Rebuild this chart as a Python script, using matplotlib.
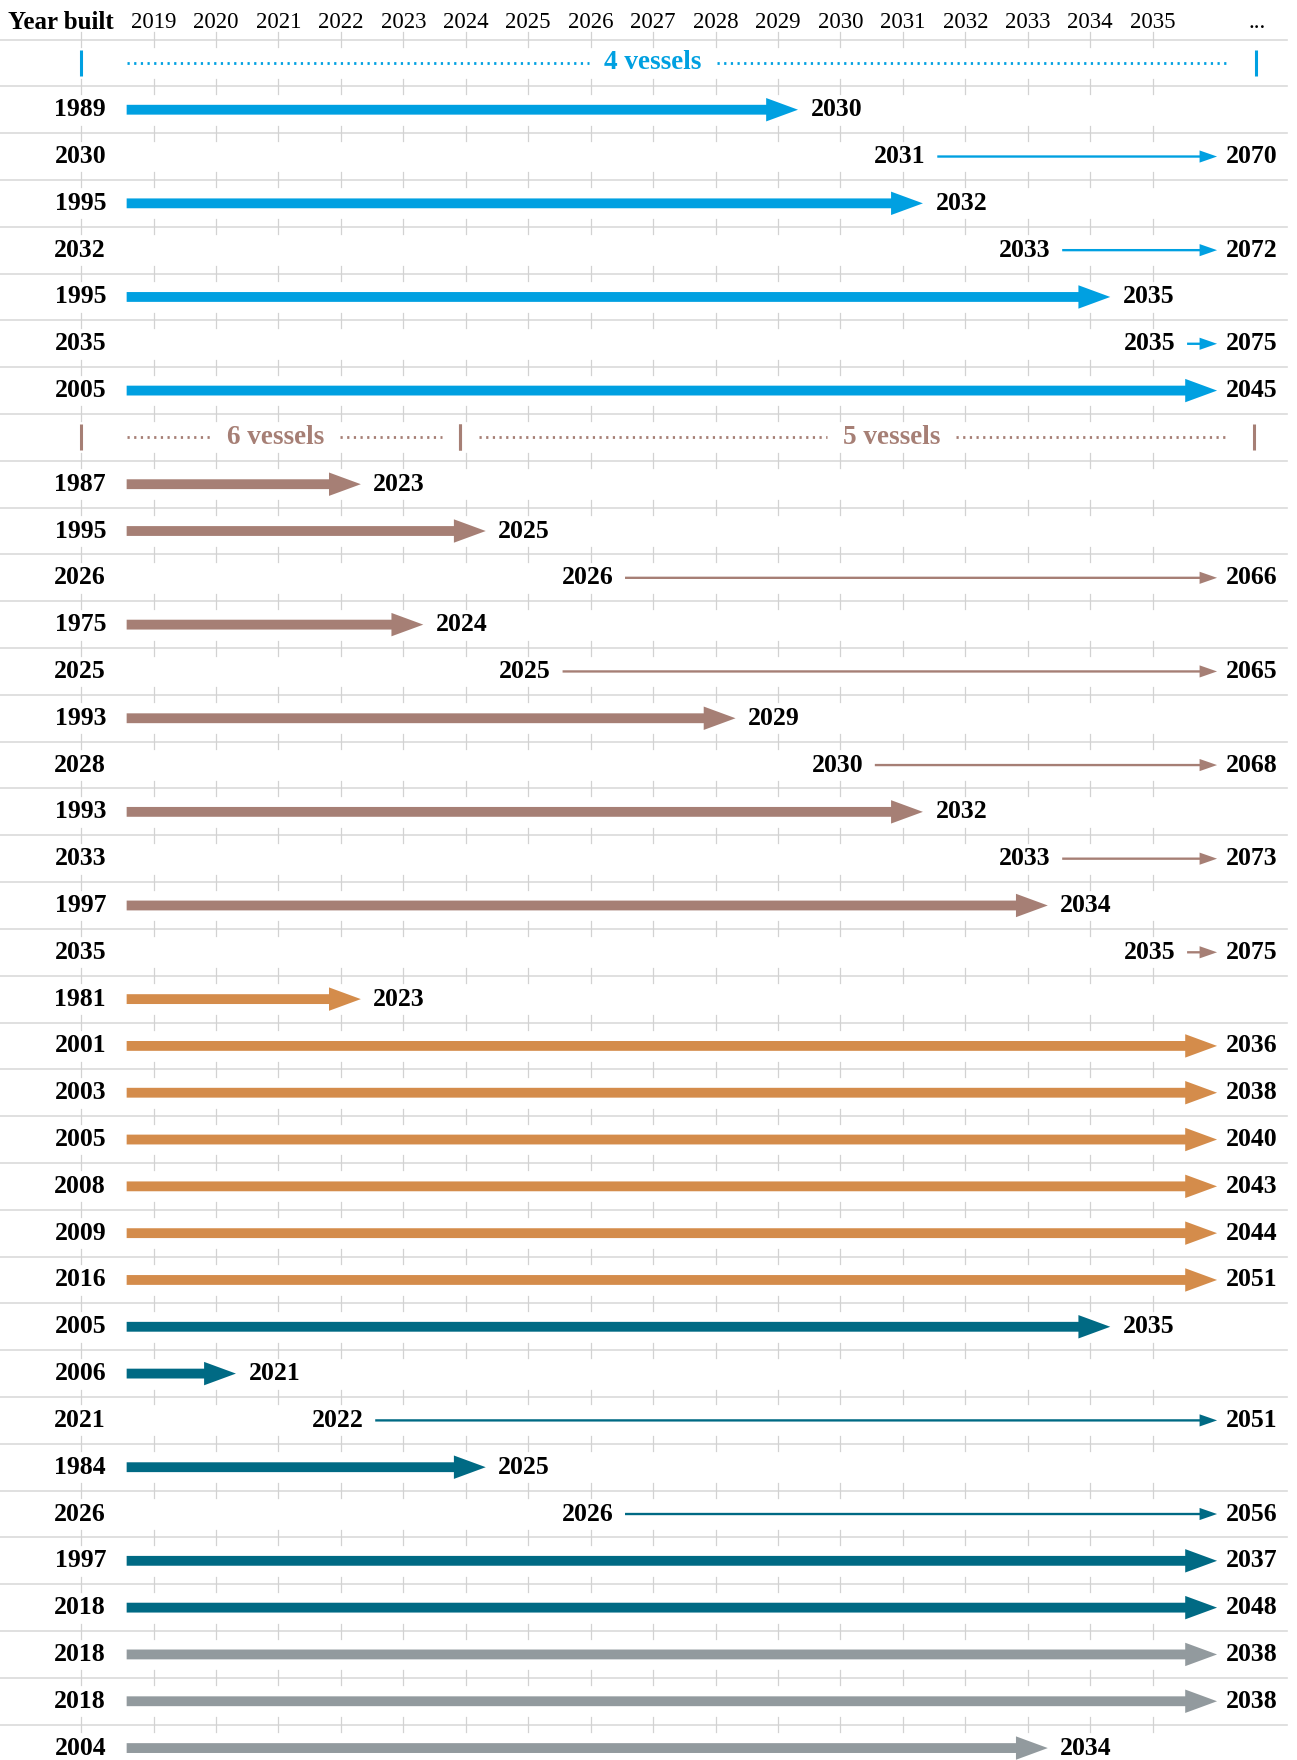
# Vessel timeline: year built, retirement year, and planned replacements

import matplotlib.pyplot as plt
from matplotlib.patches import FancyArrow

plt.rcParams['font.family'] = ['Liberation Serif', 'DejaVu Serif']

# Header years
years = list(range(2019, 2036))

# Data per group: year built, start of a replacement (None = existing vessel), end year
blue_built = [1989, 2030, 1995, 2032, 1995, 2035, 2005]
blue_from = [None, 2031, None, 2033, None, 2035, None]
blue_until = [2030, 2070, 2032, 2072, 2035, 2075, 2045]

brown_built = [1987, 1995, 2026, 1975, 2025, 1993, 2028, 1993, 2033, 1997, 2035]
brown_from = [None, None, 2026, None, 2025, None, 2030, None, 2033, None, 2035]
brown_until = [2023, 2025, 2066, 2024, 2065, 2029, 2068, 2032, 2073, 2034, 2075]

orange_built = [1981, 2001, 2003, 2005, 2008, 2009, 2016]
orange_from = [None] * 7
orange_until = [2023, 2036, 2038, 2040, 2043, 2044, 2051]

teal_built = [2005, 2006, 2021, 1984, 2026, 1997, 2018]
teal_from = [None, None, 2022, None, 2026, None, None]
teal_until = [2035, 2021, 2051, 2025, 2056, 2037, 2048]

gray_built = [2018, 2018, 2004]
gray_from = [None] * 3
gray_until = [2038, 2038, 2034]

# Group annotations: label, span start, span end, label centre (year units)
blue_groups = [("4 vessels", 2017.84, 2036.65, 2027.0)]
brown_groups = [("6 vessels", 2017.84, 2023.91, 2020.96),
                ("5 vessels", 2023.91, 2036.62, 2030.82)]

BLUE = "#00a0e1"
BROWN = "#a67f75"
ORANGE = "#d48c4b"
TEAL = "#006a84"
GRAY = "#929a9e"

# Layout of rows: ('group', ...) or ('row', ...)
rows = []
rows.append(("group", blue_groups, BLUE))
for b, f, u in zip(blue_built, blue_from, blue_until):
    rows.append(("row", b, f, u, BLUE))
rows.append(("group", brown_groups, BROWN))
for b, f, u in zip(brown_built, brown_from, brown_until):
    rows.append(("row", b, f, u, BROWN))
for b, f, u in zip(orange_built, orange_from, orange_until):
    rows.append(("row", b, f, u, ORANGE))
for b, f, u in zip(teal_built, teal_from, teal_until):
    rows.append(("row", b, f, u, TEAL))
for b, f, u in zip(gray_built, gray_from, gray_until):
    rows.append(("row", b, f, u, GRAY))

fig = plt.figure(figsize=(12.97, 17.6), dpi=100)
ax = fig.add_axes([0, 0, 1, 1])
ax.set_xlim(2016.542, 2037.31)
ax.set_ylim(36.255, -1.344)
ax.axis('off')

LEFT_COL = 2017.84
ARROW_START = 2018.57
CLIP = 2036.03
RIGHT_LABEL = 2037.0

# Horizontal separators with small ticks
tick_x = [LEFT_COL] + years
for i in range(len(rows)):
    y = i - 0.5
    ax.plot([2016.542, 2037.15], [y, y], color="#dadada", lw=1.2, zorder=1)
    for x in tick_x:
        ax.plot([x, x], [y - 0.16, y + 0.16], color="#d2d2d2", lw=0.9, zorder=1)

# Header
ax.text(2016.67, -0.87, "Year built", fontsize=18, fontweight='bold',
        ha='left', va='center')
for yr in years:
    ax.text(yr, -0.87, str(yr), fontsize=16.5, ha='center', va='center')
ax.text(2036.67, -0.87, "...", fontsize=16.5, ha='center', va='center')

label_kw = dict(fontsize=18.5, fontweight='bold', va='center', color='black')
dots = dict(lw=2.0, linestyle=(0, (0.8, 1.6)))

for i, r in enumerate(rows):
    if r[0] == "group":
        groups, color = r[1], r[2]
        for label, x0, x1, xl in groups:
            # vertical bars at both ends
            for xb in (x0, x1):
                ax.plot([xb, xb], [i - 0.28, i + 0.28], color=color, lw=2.2,
                        solid_capstyle='butt')
            pad_l = 0.73 if x0 == LEFT_COL else 0.3
            pad_r = 0.42 if x1 > 2036 else 0.29
            ax.plot([x0 + pad_l, xl - 1.03], [i, i], color=color, **dots)
            ax.plot([xl + 1.03, x1 - pad_r], [i, i], color=color, **dots)
            ax.text(xl, i, label, color=color, fontsize=19.5, fontweight='bold',
                    ha='center', va='center')
        continue

    built, start, until, color = r[1], r[2], r[3], r[4]
    ax.text(2018.24, i, str(built), ha='right', **label_kw)

    if start is None:
        tip = CLIP if until > 2035 else until - 0.68
        ax.add_patch(FancyArrow(ARROW_START, i, tip - ARROW_START, 0,
                                width=0.21, head_width=0.5, head_length=0.51,
                                length_includes_head=True, color=color, lw=0))
    else:
        ax.text(start - 0.05, i, str(start), ha='center', **label_kw)
        x0 = start + 0.55
        tip = CLIP
        ax.add_patch(FancyArrow(x0, i, tip - x0, 0,
                                width=0.05, head_width=0.26, head_length=0.28,
                                length_includes_head=True, color=color, lw=0))

    if until > 2035:
        ax.text(RIGHT_LABEL, i, str(until), ha='right', **label_kw)
    else:
        ax.text(tip + 0.2, i, str(until), ha='left', **label_kw)

plt.savefig("out.png", dpi=100)
